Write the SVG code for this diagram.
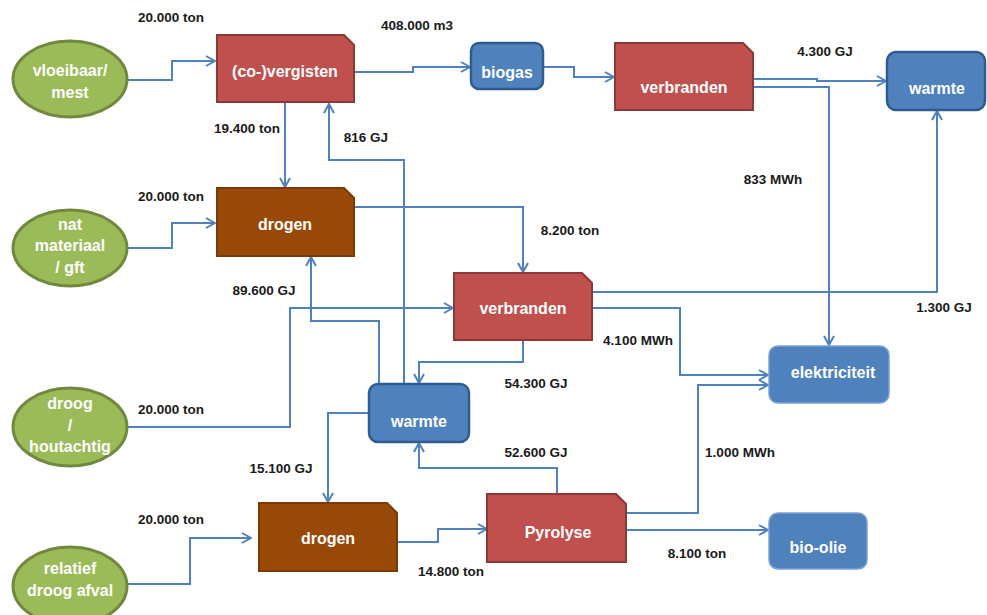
<svg xmlns="http://www.w3.org/2000/svg" width="987" height="615" viewBox="0 0 987 615">
<style>
.src ellipse{fill:#9bbb59;stroke:#71893f;stroke-width:3}
.red path{fill:#c0504d;stroke:#8c3836;stroke-width:2}
.brown path{fill:#984807;stroke:#7a3a08;stroke-width:2}
.blue rect{fill:#4f81bd;stroke:#2f5b8f;stroke-width:2.5}
.lblue rect{fill:#4f81bd;stroke:#7aa2d6;stroke-width:1.5}
.nt{font-family:"Liberation Sans",Arial,sans-serif;font-size:16px;font-weight:bold;fill:#ffffff;text-anchor:middle}
.lb{font-family:"Liberation Sans",Arial,sans-serif;font-size:13.5px;font-weight:bold;fill:#1a1a1a;text-anchor:middle}
#connectors path{fill:none;stroke:#4f81bd;stroke-width:2;marker-end:url(#arr)}
</style>
<defs>
<marker id="arr" viewBox="0 0 12 12" refX="11" refY="6" markerWidth="12" markerHeight="12" markerUnits="userSpaceOnUse" orient="auto">
<path d="M2,1 L11,6 L2,11" fill="none" stroke="#4f81bd" stroke-width="2"/>
</marker>
</defs>
<rect width="987" height="615" fill="#ffffff"/>

<g id="connectors">
<path d="M128,80 H172 V61 H215"/>
<path d="M128,248 H172 V223 H215"/>
<path d="M354,72 H413 V67 H470"/>
<path d="M543,67 H574 V77 H614"/>
<path d="M753,79 H817 V81 H886"/>
<path d="M753,87 H829 V345"/>
<path d="M285,102 V187"/>
<path d="M404,384 V160 H329 V104"/>
<path d="M354,207 H523 V272"/>
<path d="M379,384 V321 H311 V257"/>
<path d="M128,427 H290 V308 H453"/>
<path d="M592,292 H937 V111"/>
<path d="M592,308 H680 V375 H768"/>
<path d="M523,340 V362 H419 V383"/>
<path d="M369,413 H328 V502"/>
<path d="M557,494 V468 H419 V443"/>
<path d="M128,584 H190 V538 H251"/>
<path d="M397,542 H438 V529 H487"/>
<path d="M626,513 H698 V385 H768"/>
<path d="M626,530 H768"/>
</g>

<g id="labels">
<text class="lb" x="171" y="22">20.000 ton</text>
<text class="lb" x="417" y="30">408.000 m3</text>
<text class="lb" x="247" y="133">19.400 ton</text>
<text class="lb" x="366" y="142">816 GJ</text>
<text class="lb" x="171" y="201">20.000 ton</text>
<text class="lb" x="264" y="295">89.600 GJ</text>
<text class="lb" x="825" y="56">4.300 GJ</text>
<text class="lb" x="773" y="184">833 MWh</text>
<text class="lb" x="570" y="235">8.200 ton</text>
<text class="lb" x="944" y="312">1.300 GJ</text>
<text class="lb" x="638" y="345">4.100 MWh</text>
<text class="lb" x="536" y="388">54.300 GJ</text>
<text class="lb" x="536" y="457">52.600 GJ</text>
<text class="lb" x="740" y="457">1.000 MWh</text>
<text class="lb" x="697" y="558">8.100 ton</text>
<text class="lb" x="171" y="414">20.000 ton</text>
<text class="lb" x="281" y="473">15.100 GJ</text>
<text class="lb" x="171" y="524">20.000 ton</text>
<text class="lb" x="451" y="576">14.800 ton</text>
</g>

<g id="vloeibaar" class="src">
<ellipse cx="70" cy="79" rx="57" ry="38"/>
<text class="nt" x="70" y="76">vloeibaar/</text>
<text class="nt" x="70" y="98">mest</text>
</g>
<g id="nat" class="src">
<ellipse cx="70" cy="248" rx="57" ry="38"/>
<text class="nt" x="70" y="230">nat</text>
<text class="nt" x="70" y="251">materiaal</text>
<text class="nt" x="70" y="273">/ gft</text>
</g>
<g id="droog" class="src">
<ellipse cx="70" cy="427" rx="57" ry="39"/>
<text class="nt" x="70" y="409">droog</text>
<text class="nt" x="70" y="431">/</text>
<text class="nt" x="70" y="452">houtachtig</text>
</g>
<g id="relatief" class="src">
<ellipse cx="70" cy="586" rx="57" ry="39"/>
<text class="nt" x="70" y="574">relatief</text>
<text class="nt" x="70" y="596">droog afval</text>
</g>

<g id="vergisten" class="red">
<path d="M217,35 H344 L354,45 V102 H217 Z"/>
<text class="nt" x="285" y="77">(co-)vergisten</text>
</g>
<g id="drogen1" class="brown">
<path d="M217,188 H344 L354,198 V256 H217 Z"/>
<text class="nt" x="285" y="230">drogen</text>
</g>
<g id="biogas" class="blue">
<rect x="471" y="43" width="72" height="46" rx="8"/>
<text class="nt" x="507" y="78">biogas</text>
</g>
<g id="verbranden1" class="red">
<path d="M615,43 H743 L753,53 V110 H615 Z"/>
<text class="nt" x="684" y="93">verbranden</text>
</g>
<g id="warmte1" class="blue">
<rect x="887" y="52" width="98" height="58" rx="9"/>
<text class="nt" x="937" y="94">warmte</text>
</g>
<g id="verbranden2" class="red">
<path d="M454,273 H582 L592,283 V340 H454 Z"/>
<text class="nt" x="523" y="314">verbranden</text>
</g>
<g id="warmte2" class="blue">
<rect x="369" y="384" width="100" height="58" rx="9"/>
<text class="nt" x="419" y="427">warmte</text>
</g>
<g id="elektriciteit" class="lblue">
<rect x="769" y="346" width="120" height="57" rx="9"/>
<text class="nt" x="833" y="378">elektriciteit</text>
</g>
<g id="drogen2" class="brown">
<path d="M259,503 H387 L397,513 V571 H259 Z"/>
<text class="nt" x="328" y="544">drogen</text>
</g>
<g id="pyrolyse" class="red">
<path d="M487,494 H616 L626,504 V562 H487 Z"/>
<text class="nt" x="558" y="538">Pyrolyse</text>
</g>
<g id="bioolie" class="lblue">
<rect x="769" y="513" width="98" height="56" rx="9"/>
<text class="nt" x="818" y="553">bio-olie</text>
</g>
</svg>
